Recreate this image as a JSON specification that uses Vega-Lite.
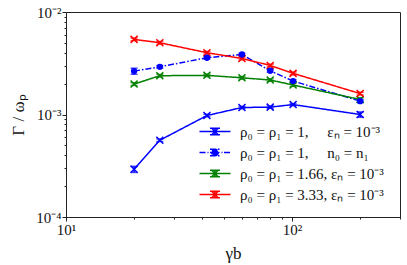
{
  "$schema": "https://vega.github.io/schema/vega-lite/v6.json",
  "width": 334,
  "height": 205,
  "autosize": "none",
  "padding": {"left": 66, "top": 12, "right": 7, "bottom": 48},
  "background": "white",
  "config": {
    "view": {"stroke": "#222222", "strokeWidth": 1},
    "font": "Liberation Serif",
    "axis": {"grid": false, "domainColor": "#222222", "tickColor": "#222222", "labelColor": "#111111", "titleColor": "#111111", "labelFont": "Liberation Serif", "titleFont": "Liberation Serif", "labelFontSize": 15, "titleFontSize": 17, "titleFontWeight": "normal", "labelFlush": false, "labelOverlap": false}
  },
  "data": {"values": [
    {"s": "ρ₀ = ρ₁ = 1,\u2003 εₙ = 10⁻³", "x": 20, "y": 0.000292, "lo": 0.000272, "hi": 0.000312},
    {"s": "ρ₀ = ρ₁ = 1,\u2003 εₙ = 10⁻³", "x": 26, "y": 0.000561, "lo": 0.000545, "hi": 0.000578},
    {"s": "ρ₀ = ρ₁ = 1,\u2003 εₙ = 10⁻³", "x": 42, "y": 0.000977, "lo": 0.000950, "hi": 0.001005},
    {"s": "ρ₀ = ρ₁ = 1,\u2003 εₙ = 10⁻³", "x": 60, "y": 0.00117, "lo": 0.00114, "hi": 0.00120},
    {"s": "ρ₀ = ρ₁ = 1,\u2003 εₙ = 10⁻³", "x": 80, "y": 0.00118, "lo": 0.00115, "hi": 0.00121},
    {"s": "ρ₀ = ρ₁ = 1,\u2003 εₙ = 10⁻³", "x": 101, "y": 0.00125, "lo": 0.00122, "hi": 0.00128},
    {"s": "ρ₀ = ρ₁ = 1,\u2003 εₙ = 10⁻³", "x": 200, "y": 0.00100, "lo": 0.00094, "hi": 0.00106},
    {"s": "ρ₀ = ρ₁ = 1,\u2003 n₀ = n₁", "x": 20, "y": 0.00265, "lo": 0.00247, "hi": 0.00283},
    {"s": "ρ₀ = ρ₁ = 1,\u2003 n₀ = n₁", "x": 26, "y": 0.00292, "lo": 0.00284, "hi": 0.00300},
    {"s": "ρ₀ = ρ₁ = 1,\u2003 n₀ = n₁", "x": 42, "y": 0.00358, "lo": 0.00348, "hi": 0.00368},
    {"s": "ρ₀ = ρ₁ = 1,\u2003 n₀ = n₁", "x": 60, "y": 0.00385, "lo": 0.00374, "hi": 0.00396},
    {"s": "ρ₀ = ρ₁ = 1,\u2003 n₀ = n₁", "x": 80, "y": 0.00267, "lo": 0.00259, "hi": 0.00275},
    {"s": "ρ₀ = ρ₁ = 1,\u2003 n₀ = n₁", "x": 101, "y": 0.00212, "lo": 0.00206, "hi": 0.00218},
    {"s": "ρ₀ = ρ₁ = 1,\u2003 n₀ = n₁", "x": 200, "y": 0.00135, "lo": 0.00131, "hi": 0.00139},
    {"s": "ρ₀ = ρ₁ = 1.66, εₙ = 10⁻³", "x": 20, "y": 0.00198, "lo": 0.00192, "hi": 0.00204},
    {"s": "ρ₀ = ρ₁ = 1.66, εₙ = 10⁻³", "x": 26, "y": 0.00239, "lo": 0.00232, "hi": 0.00246},
    {"s": "ρ₀ = ρ₁ = 1.66, εₙ = 10⁻³", "x": 42, "y": 0.00241, "lo": 0.00234, "hi": 0.00248},
    {"s": "ρ₀ = ρ₁ = 1.66, εₙ = 10⁻³", "x": 60, "y": 0.00228, "lo": 0.00221, "hi": 0.00235},
    {"s": "ρ₀ = ρ₁ = 1.66, εₙ = 10⁻³", "x": 80, "y": 0.00217, "lo": 0.00211, "hi": 0.00223},
    {"s": "ρ₀ = ρ₁ = 1.66, εₙ = 10⁻³", "x": 101, "y": 0.00194, "lo": 0.00188, "hi": 0.00200},
    {"s": "ρ₀ = ρ₁ = 1.66, εₙ = 10⁻³", "x": 200, "y": 0.00140, "lo": 0.00134, "hi": 0.00146},
    {"s": "ρ₀ = ρ₁ = 3.33, εₙ = 10⁻³", "x": 20, "y": 0.00541, "lo": 0.00525, "hi": 0.00557},
    {"s": "ρ₀ = ρ₁ = 3.33, εₙ = 10⁻³", "x": 26, "y": 0.00501, "lo": 0.00486, "hi": 0.00516},
    {"s": "ρ₀ = ρ₁ = 3.33, εₙ = 10⁻³", "x": 42, "y": 0.00401, "lo": 0.00389, "hi": 0.00413},
    {"s": "ρ₀ = ρ₁ = 3.33, εₙ = 10⁻³", "x": 60, "y": 0.00352, "lo": 0.00341, "hi": 0.00363},
    {"s": "ρ₀ = ρ₁ = 3.33, εₙ = 10⁻³", "x": 80, "y": 0.00301, "lo": 0.00292, "hi": 0.00310},
    {"s": "ρ₀ = ρ₁ = 3.33, εₙ = 10⁻³", "x": 101, "y": 0.00252, "lo": 0.00244, "hi": 0.00260},
    {"s": "ρ₀ = ρ₁ = 3.33, εₙ = 10⁻³", "x": 200, "y": 0.00160, "lo": 0.00155, "hi": 0.00165}
  ]},
  "encoding": {
    "x": {"field": "x", "type": "quantitative",
      "scale": {"type": "log", "domain": [10, 300], "nice": false},
      "axis": {"title": "γb", "values": [10, 20, 30, 40, 50, 60, 70, 80, 90, 100, 200, 300],
        "labelExpr": "datum.value == 10 ? '10¹' : datum.value == 100 ? '10²' : ''",
        "tickSize": {"condition": {"test": "datum.value == 10 || datum.value == 100", "value": 4}, "value": 2},
        "labelPadding": 1, "titlePadding": 8}},
    "color": {"field": "s", "type": "nominal",
      "scale": {"domain": ["ρ₀ = ρ₁ = 1,\u2003 εₙ = 10⁻³", "ρ₀ = ρ₁ = 1,\u2003 n₀ = n₁", "ρ₀ = ρ₁ = 1.66, εₙ = 10⁻³", "ρ₀ = ρ₁ = 3.33, εₙ = 10⁻³"],
        "range": ["#0000ff", "#0000ff", "#008000", "#ff0000"]},
      "legend": {"title": null, "orient": "none", "legendX": 131, "legendY": 112, "padding": 0,
        "labelFont": "Liberation Serif", "labelFontSize": 15, "labelColor": "#111111", "labelLimit": 0,
        "symbolSize": 100, "labelOffset": 28, "rowPadding": 5, "symbolStrokeWidth": 1.5,
        "encode": {"symbols": {"update": {
          "shape": {"signal": "indexof(datum.value, 'n₀') >= 0 ? 'M-1,0H0.3M0.6,0H0.8M1.1,0H3.1M3.4,0H3.6M3.9,0H5.2M2.1,-0.65V0.65M1.1,-0.65H3.1M1.1,0.65H3.1M2.75,0A0.65,0.65 0 1,1 1.45,0A0.65,0.65 0 1,1 2.75,0Z' : 'M-1,0H5.2M1.5,-0.6L2.7,0.6M1.5,0.6L2.7,-0.6M2.1,-0.65V0.65M1.1,-0.65H3.1M1.1,0.65H3.1'"},
          "fill": {"scale": "color", "field": "value"},
          "stroke": {"scale": "color", "field": "value"},
          "strokeWidth": {"value": 1.5},
          "strokeDash": {"value": [1, 0]},
          "opacity": {"value": 1}
        }}}}}
  },
  "layer": [
    {
      "mark": {"type": "line", "strokeWidth": 1.5},
      "encoding": {
        "y": {"field": "y", "type": "quantitative", "title": "Γ / ωₚ",
          "scale": {"type": "log", "domain": [0.0001, 0.01], "nice": false},
          "axis": {"title": "Γ / ωₚ",
            "values": [0.0001, 0.0002, 0.0003, 0.0004, 0.0005, 0.0006, 0.0007, 0.0008, 0.0009, 0.001, 0.002, 0.003, 0.004, 0.005, 0.006, 0.007, 0.008, 0.009, 0.01],
            "labelExpr": "datum.value == 0.01 ? '10⁻²' : datum.value == 0.001 ? '10⁻³' : datum.value == 0.0001 ? '10⁻⁴' : ''",
            "tickSize": {"condition": {"test": "datum.value == 0.01 || datum.value == 0.001 || datum.value == 0.0001", "value": 4}, "value": 2},
            "labelPadding": 1, "titlePadding": 8}},
        "strokeDash": {"field": "s", "type": "nominal", "legend": null,
          "scale": {"domain": ["ρ₀ = ρ₁ = 1,\u2003 εₙ = 10⁻³", "ρ₀ = ρ₁ = 1,\u2003 n₀ = n₁", "ρ₀ = ρ₁ = 1.66, εₙ = 10⁻³", "ρ₀ = ρ₁ = 3.33, εₙ = 10⁻³"],
            "range": [[1, 0], [6, 2, 1.5, 2], [1, 0], [1, 0]]}}
      }
    },
    {
      "mark": {"type": "errorbar", "ticks": {"size": 7}, "thickness": 1.5},
      "encoding": {
        "y": {"field": "lo", "type": "quantitative", "title": "Γ / ωₚ"},
        "y2": {"field": "hi"}
      }
    },
    {
      "transform": [{"filter": "indexof(datum.s, 'n₀') < 0"}],
      "mark": {"type": "point", "shape": "M-1,-1L1,1M-1,1L1,-1", "size": 49, "filled": false, "strokeWidth": 1.5, "opacity": 1},
      "encoding": {"y": {"field": "y", "type": "quantitative", "title": "Γ / ωₚ"}}
    },
    {
      "transform": [{"filter": "indexof(datum.s, 'n₀') >= 0"}],
      "mark": {"type": "point", "shape": "circle", "size": 40, "filled": true, "opacity": 1},
      "encoding": {"y": {"field": "y", "type": "quantitative", "title": "Γ / ωₚ"}}
    }
  ]
}
